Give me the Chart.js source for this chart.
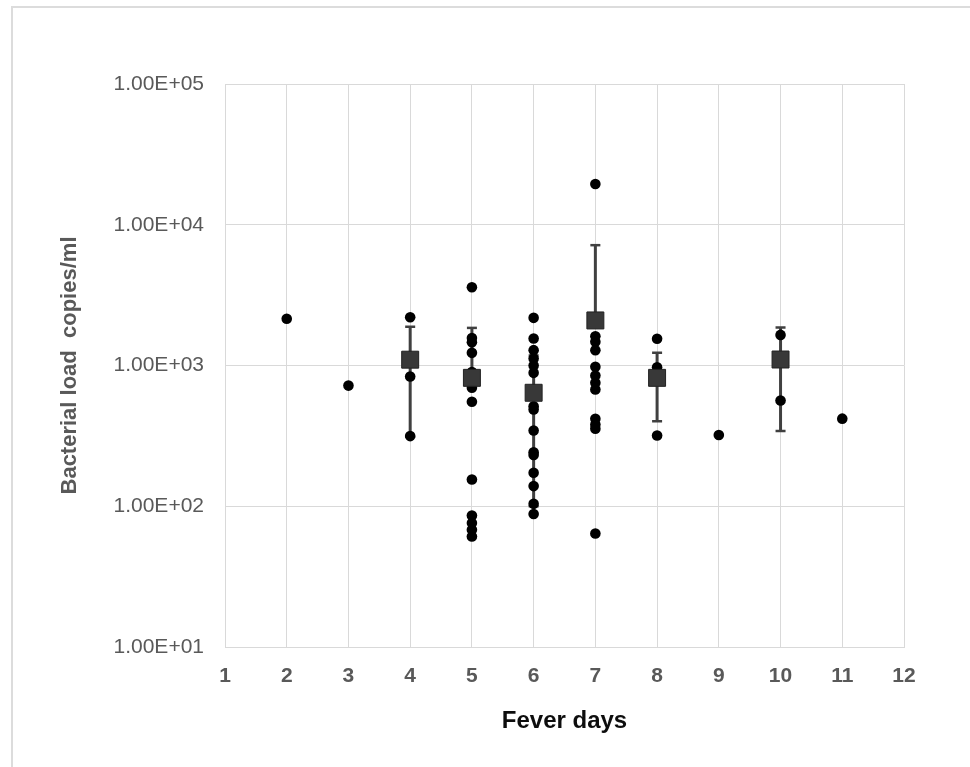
<!DOCTYPE html>
<html>
<head>
<meta charset="utf-8">
<script src="https://cdn.jsdelivr.net/npm/chart.js@4"></script>
<style>
  html, body { margin: 0; padding: 0; background: #fff; }
  #wrap { position: relative; width: 970px; height: 767px; overflow: hidden; }
  #frame { position: absolute; left: 11px; top: 6px; width: 1000px; height: 800px;
           border-left: 2px solid #dcdcdc; border-top: 2px solid #dcdcdc; }
  canvas { position: absolute; left: 0; top: 0; }
</style>
</head>
<body>
<div id="wrap">
  <div id="frame"></div>
  <canvas id="loadChart" width="970" height="767"></canvas>
</div>
<script>
// individual samples (fever day, bacterial load copies/ml)
const pointDays = [
    2, 3,
    4, 4, 4,
    5, 5, 5, 5, 5, 5, 5, 5, 5, 5, 5, 5,
    6, 6, 6, 6, 6, 6, 6, 6, 6, 6, 6, 6, 6, 6, 6,
    7, 7, 7, 7, 7, 7, 7, 7, 7, 7, 7, 7,
    8, 8, 8,
    9, 10, 10, 11
];
const pointLoads = [
    2150, 720,
    2200, 835, 315,
    3600, 1570, 1460, 1230, 900, 695, 552, 155, 86, 76, 68, 61,
    2180, 1555, 1285, 1120, 1000, 887, 514, 487, 345, 242, 231, 173, 139, 104, 88,
    19500, 1615, 1473, 1285, 980, 849, 753, 675, 418, 381, 355, 64,
    1550, 970, 318,
    321, 1650, 564, 419
];

// group means with standard deviation
const meanDays = [4, 5, 6, 7, 8, 10];
const meanLoads = [1100, 817, 640, 2090, 817, 1103];
const sdLoads = [788, 1033, 540, 5070, 415, 760];

const xTicks = [1, 2, 3, 4, 5, 6, 7, 8, 9, 10, 11, 12];
const yTicks = [10, 100, 1000, 10000, 100000];

const FONT = "'Liberation Sans', Arial, Helvetica, sans-serif";
const GRID = '#d9d9d9';

// error bars drawn underneath the markers
const errorBars = {
    id: 'errorBars',
    beforeDatasetsDraw(chart) {
        const { ctx, scales: { x, y } } = chart;
        ctx.save();
        ctx.strokeStyle = '#404040';
        meanDays.forEach((d, i) => {
            const px = x.getPixelForValue(d);
            const pm = y.getPixelForValue(meanLoads[i]);
            const hi = meanLoads[i] + sdLoads[i];
            const lo = meanLoads[i] - sdLoads[i];
            const pTop = y.getPixelForValue(hi);
            const pBot = lo > 0 ? y.getPixelForValue(lo) : pm;
            ctx.lineWidth = 3;
            ctx.beginPath();
            ctx.moveTo(px, pTop);
            ctx.lineTo(px, pBot);
            ctx.stroke();
            ctx.lineWidth = 2.5;
            ctx.beginPath();
            ctx.moveTo(px - 5, pTop);
            ctx.lineTo(px + 5, pTop);
            if (lo > 0) {
                ctx.moveTo(px - 5, pBot);
                ctx.lineTo(px + 5, pBot);
            }
            ctx.stroke();
        });
        ctx.restore();
    }
};

function sci(v) {
    const [m, e] = Number(v).toExponential(2).toUpperCase().split('E');
    const sign = e[0] === '-' ? '-' : '+';
    return m + 'E' + sign + e.replace(/[+-]/, '').padStart(2, '0');
}

const ctx = document.getElementById('loadChart').getContext('2d');
new Chart(ctx, {
    type: 'scatter',
    data: {
        datasets: [{
            label: 'Mean',
            data: meanDays.map((d, i) => ({ x: d, y: meanLoads[i] })),
            pointStyle: 'rect',
            pointRadius: 12,
            backgroundColor: '#383838',
            borderColor: '#222222',
            borderWidth: 1,
            order: 0
        }, {
            label: 'Samples',
            data: pointDays.map((d, i) => ({ x: d, y: pointLoads[i] })),
            pointRadius: 5.3,
            backgroundColor: '#000000',
            borderColor: '#000000',
            borderWidth: 0,
            order: 1
        }]
    },
    options: {
        responsive: false,
        animation: false,
        layout: {
            padding: { top: 84, right: 66, left: 0, bottom: 0 }
        },
        plugins: {
            legend: { display: false },
            tooltip: { enabled: false }
        },
        scales: {
            x: {
                type: 'linear',
                min: 1,
                max: 12,
                afterBuildTicks: scale => { scale.ticks = xTicks.map(v => ({ value: v })); },
                afterFit: scale => { scale.height = 120; },
                grid: { color: GRID, lineWidth: 1, drawTicks: false },
                border: { color: GRID, width: 1 },
                ticks: {
                    padding: 17,
                    color: '#595959',
                    font: { family: FONT, size: 21, weight: 'bold' }
                },
                title: {
                    display: true,
                    text: 'Fever days',
                    color: '#0d0d0d',
                    padding: { top: 0, bottom: 31 },
                    font: { family: FONT, size: 24, weight: 'bold' }
                }
            },
            y: {
                type: 'logarithmic',
                min: 10,
                max: 100000,
                afterBuildTicks: scale => { scale.ticks = yTicks.map(v => ({ value: v })); },
                afterFit: scale => { scale.width = 225; },
                grid: { color: GRID, lineWidth: 1, drawTicks: false },
                border: { color: GRID, width: 1 },
                ticks: {
                    padding: 21,
                    color: '#595959',
                    font: { family: FONT, size: 21 },
                    callback: v => sci(v)
                },
                title: {
                    display: true,
                    text: 'Bacterial load  copies/ml',
                    color: '#595959',
                    padding: { top: 57, bottom: 0 },
                    font: { family: FONT, size: 22, weight: 'bold' }
                }
            }
        }
    },
    plugins: [errorBars]
});
</script>
</body>
</html>
